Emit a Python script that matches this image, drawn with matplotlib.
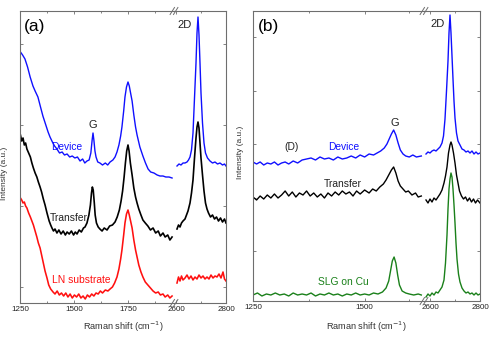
import numpy as np
import matplotlib.pyplot as plt
from matplotlib.lines import Line2D

plt.rcParams['font.family'] = ['Liberation Sans', 'DejaVu Sans']

# ---------------- panel (a) data : low range / high range ----------------
a_dev_lo_x = [1252, 1262, 1273, 1285, 1297, 1310, 1320, 1333, 1345, 1356, 1368, 1380, 1389, 1400, 1410, 1421, 1433, 1445, 1456, 1468, 1480, 1492, 1504, 1516, 1528, 1540, 1550, 1560, 1570, 1578, 1584, 1588, 1592, 1597, 1602, 1610, 1620, 1632, 1645, 1656, 1667, 1680, 1690, 1699, 1708, 1716, 1722, 1730, 1736, 1743, 1750, 1756, 1762, 1769, 1777, 1785, 1792, 1805, 1819, 1831, 1843, 1855, 1870, 1885, 1898, 1912, 1925, 1940, 1954]
a_dev_lo_y = [251, 248, 244, 236, 226, 217, 212, 206, 196, 187, 179, 171, 166, 161, 157, 154, 150, 151, 148, 149, 146, 147, 145, 146, 142, 144, 140, 142, 143, 150, 163, 170, 163, 152, 146, 141, 140, 138, 140, 138, 141, 143, 146, 151, 158, 167, 176, 192, 206, 216, 221, 217, 210, 202, 188, 176, 168, 156, 147, 140, 134, 131, 130, 128, 127, 127, 126, 126, 125]
a_dev_hi_x = [2604, 2612, 2620, 2628, 2636, 2644, 2650, 2656, 2662, 2668, 2674, 2680, 2684, 2688, 2692, 2696, 2700, 2706, 2712, 2718, 2726, 2736, 2746, 2756, 2766, 2776, 2786, 2794, 2800]
a_dev_hi_y = [137, 139, 138, 140, 140, 141, 143, 146, 153, 170, 205, 240, 270, 286, 268, 240, 210, 180, 160, 150, 145, 142, 140, 141, 139, 140, 138, 139, 137]

a_tr_lo_x = [1252, 1258, 1264, 1270, 1276, 1282, 1290, 1298, 1305, 1312, 1320, 1328, 1335, 1343, 1350, 1358, 1366, 1375, 1385, 1392, 1398, 1405, 1412, 1421, 1430, 1440, 1450, 1460, 1468, 1478, 1488, 1498, 1506, 1514, 1524, 1534, 1544, 1551, 1560, 1569, 1576, 1581, 1585, 1589, 1594, 1598, 1604, 1612, 1620, 1630, 1640, 1653, 1665, 1678, 1690, 1700, 1710, 1718, 1725, 1732, 1738, 1744, 1750, 1755, 1761, 1769, 1777, 1785, 1792, 1800, 1810, 1819, 1830, 1842, 1854, 1866, 1878, 1890, 1900, 1912, 1922, 1934, 1944, 1954]
a_tr_lo_y = [168, 162, 165, 158, 160, 154, 150, 146, 140, 135, 130, 126, 121, 116, 111, 104, 98, 90, 82, 78, 75, 72, 74, 70, 73, 69, 72, 68, 71, 69, 72, 68, 71, 69, 73, 71, 75, 76, 80, 88, 98, 110, 116, 113, 100, 88, 80, 76, 74, 72, 75, 73, 77, 78, 81, 86, 93, 102, 112, 126, 140, 152, 158, 152, 140, 128, 115, 106, 100, 94, 88, 83, 80, 77, 73, 75, 70, 72, 67, 70, 66, 68, 63, 66]
a_tr_hi_x = [2604, 2610, 2616, 2622, 2628, 2636, 2642, 2648, 2656, 2662, 2668, 2674, 2680, 2684, 2688, 2692, 2696, 2700, 2706, 2712, 2718, 2724, 2730, 2738, 2746, 2754, 2762, 2770, 2778, 2786, 2794, 2800]
a_tr_hi_y = [74, 78, 76, 80, 82, 84, 88, 92, 100, 110, 123, 145, 165, 176, 181, 175, 160, 145, 128, 112, 100, 94, 90, 86, 88, 84, 86, 82, 85, 81, 84, 80]

a_ln_lo_x = [1252, 1258, 1264, 1270, 1276, 1282, 1290, 1298, 1305, 1312, 1320, 1328, 1335, 1343, 1350, 1358, 1366, 1375, 1383, 1392, 1403, 1412, 1422, 1432, 1442, 1452, 1462, 1472, 1482, 1492, 1502, 1512, 1522, 1532, 1542, 1552, 1562, 1572, 1582, 1592, 1602, 1612, 1622, 1632, 1645, 1657, 1667, 1678, 1688, 1699, 1708, 1716, 1722, 1730, 1736, 1743, 1750, 1756, 1762, 1769, 1777, 1785, 1792, 1800, 1810, 1819, 1830, 1842, 1854, 1866, 1878, 1890, 1900, 1912, 1922, 1934, 1944, 1954]
a_ln_lo_y = [105, 103, 100, 101, 97, 95, 90, 86, 82, 78, 72, 66, 60, 55, 48, 40, 32, 25, 18, 14, 11, 9, 12, 8, 10, 7, 10, 6, 9, 5, 8, 6, 9, 5, 7, 4, 8, 6, 9, 7, 10, 9, 12, 10, 13, 12, 14, 16, 20, 26, 34, 44, 53, 68, 80, 89, 93, 88, 82, 75, 63, 53, 46, 38, 31, 26, 21, 18, 15, 12, 10, 11, 8, 9, 6, 8, 5, 7]
a_ln_hi_x = [2604, 2610, 2616, 2622, 2628, 2636, 2644, 2652, 2660, 2668, 2676, 2684, 2692, 2700, 2708, 2716, 2724, 2732, 2740, 2748, 2756, 2764, 2772, 2780, 2788, 2794, 2800]
a_ln_hi_y = [20, 26, 22, 27, 23, 25, 28, 24, 27, 23, 26, 24, 28, 25, 27, 24, 26, 24, 28, 25, 27, 26, 29, 25, 31, 24, 22]

# ---------------- panel (b) data ----------------
b_dev_lo_x = [1250, 1258, 1266, 1274, 1282, 1290, 1298, 1306, 1314, 1322, 1330, 1340, 1350, 1360, 1370, 1380, 1390, 1400, 1410, 1420, 1430, 1440, 1450, 1460, 1470, 1480, 1490, 1500, 1510, 1520, 1528, 1536, 1544, 1550, 1555, 1560, 1565, 1570, 1575, 1580, 1586, 1592, 1600, 1608, 1616, 1627]
b_dev_lo_y = [139, 137, 139, 136, 138, 137, 139, 136, 138, 139, 137, 140, 138, 141, 142, 143, 141, 144, 142, 143, 141, 144, 142, 143, 145, 143, 146, 144, 147, 146, 148, 150, 153, 157, 162, 167, 171, 166, 158, 151, 147, 145, 144, 146, 144, 145]
b_dev_hi_x = [2584, 2592, 2600, 2608, 2616, 2624, 2632, 2640, 2648, 2654, 2660, 2666, 2672, 2676, 2680, 2684, 2688, 2692, 2696, 2700, 2706, 2712, 2720, 2728, 2736, 2744, 2752, 2760, 2768, 2776, 2784, 2792, 2800]
b_dev_hi_y = [147, 149, 148, 150, 151, 150, 152, 154, 158, 165, 182, 210, 240, 268, 286, 268, 245, 222, 200, 183, 168, 160, 156, 152, 151, 149, 150, 148, 150, 147, 149, 147, 148]

b_tr_lo_x = [1250, 1258, 1266, 1274, 1282, 1290, 1298, 1306, 1314, 1322, 1330, 1338, 1346, 1354, 1362, 1370, 1378, 1386, 1394, 1402, 1410, 1418, 1426, 1434, 1442, 1450, 1458, 1466, 1474, 1482, 1490, 1500, 1510, 1518, 1526, 1534, 1542, 1548, 1554, 1560, 1565, 1570, 1575, 1580, 1586, 1592, 1598, 1606, 1614, 1620, 1627]
b_tr_lo_y = [104, 101, 105, 102, 106, 103, 107, 103, 106, 110, 105, 109, 104, 108, 106, 110, 105, 108, 104, 107, 103, 108, 105, 109, 106, 110, 107, 109, 105, 110, 107, 111, 108, 112, 110, 114, 117, 121, 126, 131, 134, 128, 120, 115, 112, 109, 110, 106, 108, 104, 105]
b_tr_hi_x = [2584, 2592, 2600, 2608, 2616, 2624, 2632, 2640, 2648, 2656, 2662, 2668, 2674, 2680, 2684, 2688, 2694, 2700, 2706, 2712, 2718, 2726, 2734, 2742, 2750, 2758, 2766, 2774, 2782, 2790, 2800]
b_tr_hi_y = [101, 98, 102, 99, 103, 101, 104, 107, 111, 118, 125, 134, 148, 156, 159, 156, 148, 138, 126, 118, 110, 105, 102, 104, 100, 103, 99, 102, 98, 101, 98]

b_cu_lo_x = [1250, 1260, 1270, 1280, 1290, 1300, 1310, 1320, 1330, 1340, 1350, 1360, 1370, 1380, 1390, 1400, 1410, 1420, 1430, 1440, 1450, 1460, 1470, 1480, 1490, 1500, 1510, 1520, 1530, 1540, 1548, 1554, 1558, 1562, 1566, 1570, 1574, 1578, 1584, 1592, 1600, 1610, 1620, 1627]
b_cu_lo_y = [6, 8, 5, 7, 6, 8, 6, 7, 5, 8, 6, 7, 6, 8, 5, 7, 6, 8, 6, 7, 5, 7, 6, 8, 6, 7, 6, 8, 7, 9, 13, 20, 30, 40, 44, 38, 26, 16, 10, 8, 7, 6, 7, 6]
b_cu_hi_x = [2584, 2592, 2600, 2608, 2616, 2624, 2632, 2640, 2648, 2656, 2662, 2668, 2672, 2676, 2680, 2684, 2688, 2692, 2696, 2700, 2704, 2708, 2714, 2720, 2728, 2736, 2744, 2752, 2760, 2768, 2776, 2784, 2792, 2800]
b_cu_hi_y = [4, 7, 5, 8, 6, 9, 8, 11, 14, 21, 38, 66, 92, 112, 122, 128, 124, 112, 96, 78, 58, 42, 27, 19, 13, 10, 8, 9, 7, 8, 6, 8, 6, 7]

W, H = 491, 341
fig = plt.figure(figsize=(4.91, 3.41), dpi=100)
edge = '#6e6e6e'


def px(x0, y0, x1, y1):
    # pixel box -> figure fraction rect
    return [x0 / W, 1 - y1 / H, (x1 - x0) / W, (y1 - y0) / H]


def make_panel(box_lo, box_hi, xlim_lo, xlim_hi, ylim, yt, lo_major, lo_minor):
    ax1 = fig.add_axes(px(*box_lo))
    ax2 = fig.add_axes(px(*box_hi), sharey=ax1)
    ax1.set_xlim(*xlim_lo)
    ax2.set_xlim(*xlim_hi)
    ax1.set_ylim(*ylim)
    ax1.set_yticks(yt)
    ax1.set_xticks(lo_major)
    ax1.set_xticks(lo_minor, minor=True)
    ax2.set_xticks([2600, 2800])
    ax2.set_xticks([2700], minor=True)
    for ax in (ax1, ax2):
        for s in ax.spines.values():
            s.set_color(edge)
            s.set_linewidth(0.8)
        ax.tick_params(which='both', direction='in', colors=edge, labelcolor='#222222',
                       labelsize=5.8, pad=2, top=True, width=0.6)
        ax.tick_params(which='major', length=2.5)
        ax.tick_params(which='minor', length=1.6)
    ax1.spines['right'].set_visible(False)
    ax2.spines['left'].set_visible(False)
    ax1.tick_params(axis='y', left=True, right=False, labelleft=False)
    ax2.tick_params(axis='y', left=False, right=True, labelleft=False)
    return ax1, ax2


def break_marks(xp, y_top, y_bot):
    for yy in (y_top, y_bot):
        for dx in (-1.7, 1.7):
            fig.add_artist(Line2D([(xp + dx - 2.2) / W, (xp + dx + 2.2) / W],
                                  [1 - (yy + 3.5) / H, 1 - (yy - 3.5) / H],
                                  color=edge, lw=0.7, transform=fig.transFigure))


# ---- panel (a)
a1, a2 = make_panel((20, 11, 174, 303), (174, 11, 226, 303), (1250, 1963), (2592, 2800),
                    (0, 292), [16, 97, 178, 259], [1250, 1500, 1750], [1375, 1625, 1875])
a1.plot(a_dev_lo_x, a_dev_lo_y, color='#1010ff', lw=1.0)
a2.plot(a_dev_hi_x, a_dev_hi_y, color='#1010ff', lw=1.0)
a1.plot(a_tr_lo_x, a_tr_lo_y, color='black', lw=1.2)
a2.plot(a_tr_hi_x, a_tr_hi_y, color='black', lw=1.2)
a1.plot(a_ln_lo_x, a_ln_lo_y, color='#ff1010', lw=1.15)
a2.plot(a_ln_hi_x, a_ln_hi_y, color='#ff1010', lw=1.15)
a1.text(1319, 276, '(a)', fontsize=12.5, ha='center', va='center')
a1.text(1588, 178, 'G', fontsize=8, ha='center', va='center', color='#222222')
a2.text(2636, 278, '2D', fontsize=8, ha='center', va='center', color='#222222')
a1.text(1468, 156, 'Device', fontsize=7.4, ha='center', va='center', color='#1010ff')
a1.text(1477, 85, 'Transfer', fontsize=7.4, ha='center', va='center', color='#222222')
a1.text(1532, 23, 'LN substrate', fontsize=7.4, ha='center', va='center', color='#ff1010')
break_marks(174, 11, 303)

# ---- panel (b)
b1, b2 = make_panel((253, 11, 424, 301), (424, 11, 480, 301), (1250, 1633), (2576, 2800),
                    (0, 290), [50, 103, 157, 210, 264], [1250, 1500], [1375, 1600])
b1.plot(b_dev_lo_x, b_dev_lo_y, color='#1010ff', lw=1.0)
b2.plot(b_dev_hi_x, b_dev_hi_y, color='#1010ff', lw=1.0)
b1.plot(b_tr_lo_x, b_tr_lo_y, color='black', lw=1.0)
b2.plot(b_tr_hi_x, b_tr_hi_y, color='black', lw=1.0)
b1.plot(b_cu_lo_x, b_cu_lo_y, color='#1a801a', lw=1.0)
b2.plot(b_cu_hi_x, b_cu_hi_y, color='#1a801a', lw=1.0)
b1.text(1284, 274, '(b)', fontsize=12.5, ha='center', va='center')
b1.text(1568, 178, 'G', fontsize=8, ha='center', va='center', color='#222222')
b2.text(2632, 277, '2D', fontsize=8, ha='center', va='center', color='#222222')
b1.text(1337, 154, '(D)', fontsize=7.4, ha='center', va='center', color='#222222')
b1.text(1454, 154, 'Device', fontsize=7.4, ha='center', va='center', color='#1010ff')
b1.text(1452, 117, 'Transfer', fontsize=7.4, ha='center', va='center', color='#222222')
b1.text(1452, 19, 'SLG on Cu', fontsize=7.4, ha='center', va='center', color='#1a801a')
break_marks(424, 11, 301)

# axis labels
fig.text(123 / W, 1 - 327 / H, 'Raman shift (cm$^{-1}$)', fontsize=6.6, ha='center', va='center', color='#333333')
fig.text(366 / W, 1 - 327 / H, 'Raman shift (cm$^{-1}$)', fontsize=6.6, ha='center', va='center', color='#333333')
fig.text(5 / W, 1 - 173 / H, 'Intensity (a.u.)', fontsize=6, rotation=90, ha='center', va='center', color='#333333')
fig.text(240 / W, 1 - 152 / H, 'Intensity (a.u.)', fontsize=6, rotation=90, ha='center', va='center', color='#333333')

fig.savefig('out.png', dpi=100)
